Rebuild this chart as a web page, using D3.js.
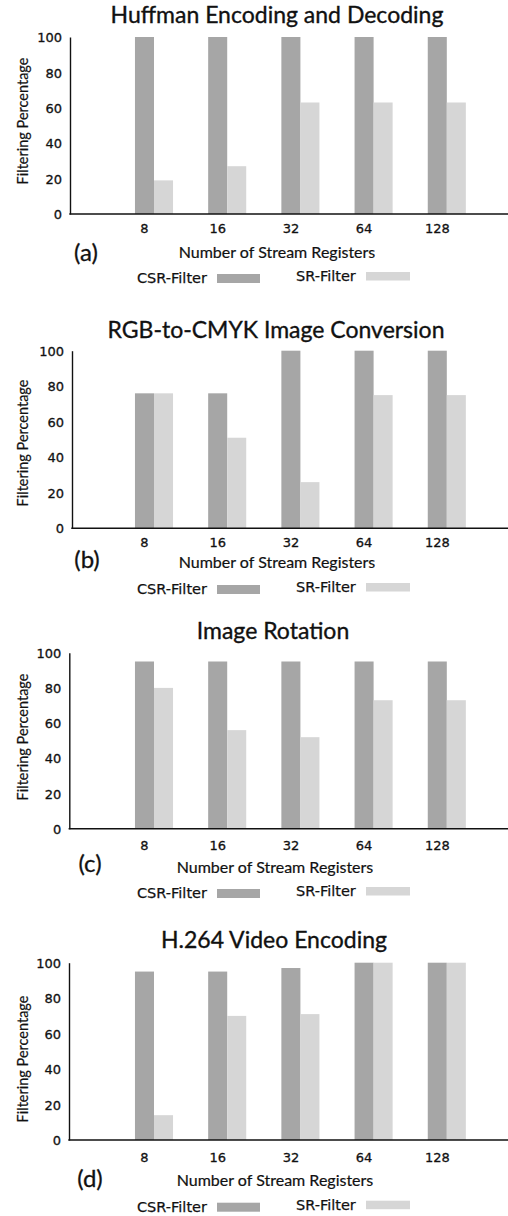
<!DOCTYPE html>
<html>
<head>
<meta charset="utf-8">
<script src="https://cdn.jsdelivr.net/npm/d3@7"></script>
<style>
  html, body { margin: 0; padding: 0; background: #fff; }
  svg { display: block; }
</style>
</head>
<body>
<svg id="chart" width="508" height="1216"></svg>
<script>
// ---------------- data ----------------
const categories = ["8", "16", "32", "64", "128"];
const seriesNames = ["CSR-Filter", "SR-Filter"];
const titles = ["Huffman Encoding and Decoding", "RGB-to-CMYK Image Conversion", "Image Rotation", "H.264 Video Encoding"];
const panelLetters = ["(a)", "(b)", "(c)", "(d)"];
const yTicks = [0, 20, 40, 60, 80, 100];
const xAxisTitle = "Number of Stream Registers";
const yAxisTitle = "Filtering Percentage";

const csrHuffman = [100, 100, 100, 100, 100];
const srHuffman = [19, 27, 63, 63, 63];
const csrRgb = [76, 76, 100, 100, 100];
const srRgb = [76, 51, 26, 75, 75];
const csrRotation = [95, 95, 95, 95, 95];
const srRotation = [80, 56, 52, 73, 73];
const csrH264 = [95, 95, 97, 100, 100];
const srH264 = [14, 70, 71, 100, 100];

const panelSeries = [
  [csrHuffman, srHuffman],
  [csrRgb, srRgb],
  [csrRotation, srRotation],
  [csrH264, srH264]
];

// ---------------- layout ----------------
const layout = [
  {base: 214,   top: 37,    axisX: 70,   titleX: 277, titleY: 23,    tickY: 233,    xLabX: 277, xLabY: 258,   letX: 86, letY: 261,  legY: 283,   yLabY: 121},
  {base: 528.3, top: 350.7, axisX: 72,   titleX: 276, titleY: 338,   tickY: 546.7,  xLabX: 277, xLabY: 568,   letX: 87, letY: 568,  legY: 594,   yLabY: 443},
  {base: 828.7, top: 652.7, axisX: 69.3, titleX: 273, titleY: 639,   tickY: 850,    xLabX: 275, xLabY: 872.7, letX: 90, letY: 872,  legY: 898,   yLabY: 737},
  {base: 1140,  top: 962.7, axisX: 69,   titleX: 274, titleY: 947.7, tickY: 1161.7, xLabX: 275, xLabY: 1186,  letX: 90, letY: 1187, legY: 1211.7, yLabY: 1059}
];

const colors = ["#a6a6a6", "#d6d6d6"];
const humanist = "Lato, 'Open Sans', sans-serif";
const grotesk = "'DejaVu Sans', sans-serif";
const ink = "#111";

const svg = d3.select("#chart");

const x = d3.scaleBand()
  .domain(categories)
  .range([117.4, 483.4])
  .paddingInner(0.48)
  .paddingOuter(0.24);

const xs = d3.scaleBand()
  .domain([0, 1])
  .range([0, x.bandwidth()]);

function heavy(sel, w) {
  return sel.style("fill", ink).style("stroke", ink).style("stroke-width", w + "px");
}

layout.forEach((L, pi) => {
  const g = svg.append("g");
  const y = d3.scaleLinear().domain([0, 100]).range([L.base, L.top]);

  // title
  heavy(g.append("text")
    .attr("x", L.titleX).attr("y", L.titleY)
    .attr("text-anchor", "middle")
    .style("font-family", humanist).style("font-size", "23px")
    .text(titles[pi]), 0.35);

  // bars
  const series = panelSeries[pi];
  const groups = g.selectAll("g.grp")
    .data(categories.map((c, i) => ({c, vals: series.map(s => s[i])})))
    .enter().append("g")
    .attr("transform", d => `translate(${x(d.c)},0)`);
  groups.selectAll("rect")
    .data(d => d.vals.map((v, k) => ({v, k})))
    .enter().append("rect")
    .attr("x", d => xs(d.k))
    .attr("width", xs.bandwidth())
    .attr("y", d => y(d.v))
    .attr("height", d => y(0) - y(d.v))
    .attr("fill", d => colors[d.k]);

  // y axis
  const ya = g.append("g")
    .attr("transform", `translate(${L.axisX},0)`)
    .call(d3.axisLeft(y).tickValues(yTicks).tickSize(0).tickPadding(8));
  ya.select(".domain").attr("stroke", "#111").attr("stroke-width", 1.4);
  heavy(ya.selectAll("text")
    .attr("dy", "0.36em")
    .style("font-family", grotesk).style("font-size", "13px"), 0.3);

  // x axis line
  g.append("line")
    .attr("x1", L.axisX - 0.7).attr("x2", 508)
    .attr("y1", L.base).attr("y2", L.base)
    .attr("stroke", "#111").attr("stroke-width", 1.4);

  // x tick labels
  const xa = g.append("g")
    .attr("transform", `translate(0,${L.base})`)
    .call(d3.axisBottom(x).tickSize(0));
  xa.select(".domain").remove();
  heavy(xa.selectAll("text")
    .attr("y", L.tickY - L.base).attr("dy", 0).attr("dx", -9.5)
    .style("font-family", grotesk).style("font-size", "13px"), 0.3);

  // axis titles
  heavy(g.append("text")
    .attr("x", L.xLabX).attr("y", L.xLabY)
    .attr("text-anchor", "middle")
    .style("font-family", humanist).style("font-size", "16px")
    .text(xAxisTitle), 0.2);
  heavy(g.append("text")
    .attr("transform", `translate(28,${L.yLabY}) rotate(-90)`)
    .attr("text-anchor", "middle")
    .style("font-family", humanist).style("font-size", "14.5px")
    .text(yAxisTitle), 0.2);

  // panel letter
  heavy(g.append("text")
    .attr("x", L.letX).attr("y", L.letY)
    .attr("text-anchor", "middle")
    .style("font-family", humanist).style("font-size", "24px")
    .text(panelLetters[pi]), 0.3);

  // legend
  const leg = g.append("g");
  const legItems = [
    {name: seriesNames[0], tx: 137, tb: L.legY,     sx: 217, sy: L.legY - 9,  sw: 43, sh: 9},
    {name: seriesNames[1], tx: 296, tb: L.legY - 2, sx: 366, sy: L.legY - 11, sw: 44, sh: 8.5}
  ];
  legItems.forEach((it, k) => {
    heavy(leg.append("text")
      .attr("x", it.tx).attr("y", it.tb)
      .style("font-family", grotesk).style("font-size", "14.5px")
      .text(it.name), 0.25);
    leg.append("rect")
      .attr("x", it.sx).attr("y", it.sy)
      .attr("width", it.sw).attr("height", it.sh)
      .attr("fill", colors[k]);
  });
});
</script>
</body>
</html>
